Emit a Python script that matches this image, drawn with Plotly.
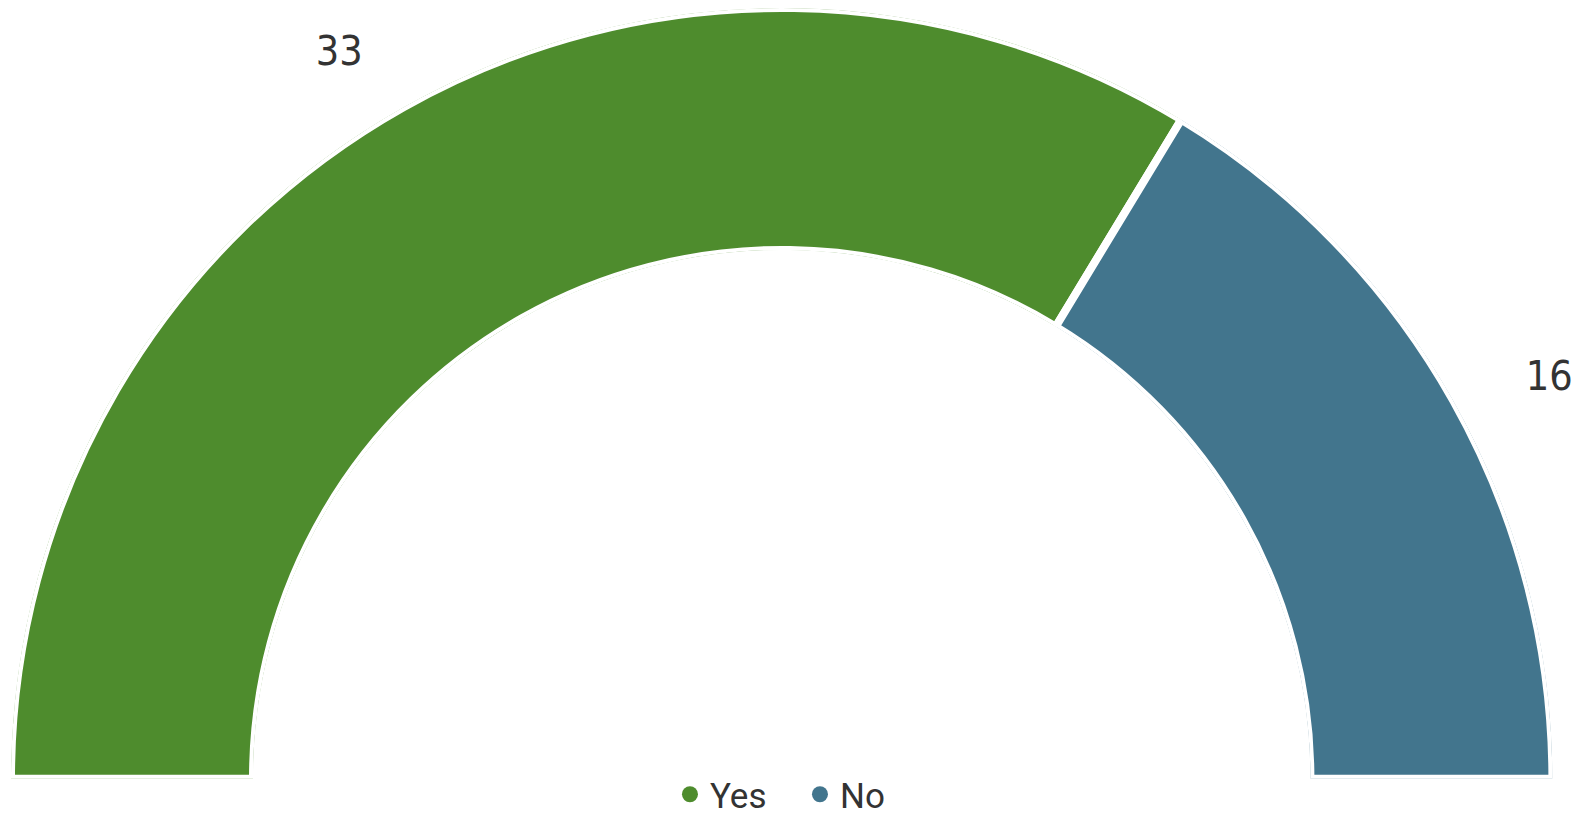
import math
import plotly.graph_objects as go

# data
categories = ["Yes", "No"]
counts = [33, 16]
colors = ["#4E8C2D", "#42758D"]

TEXT_COLOR = "#333333"
LABEL_FONT = "DejaVu Sans Condensed, DejaVu Sans, sans-serif"
LEGEND_FONT = "Roboto, sans-serif"

# where the half ring sits on the page (paper fractions)
DOM_X = [0.00191, 0.98558]
DOM_Y = [0.05551, 1.0]
LABEL_DIST = 1.108  # label distance from centre, in outer radii

# half donut: spread the counts over 180 degrees, starting on the left
total = sum(counts)
widths = [c / total * 180 for c in counts]
centers = []
start = 0
for w in widths:
    centers.append(start + w / 2)
    start += w

fig = go.Figure()

fig.add_trace(go.Barpolar(
    r=[1] * len(counts), theta=centers, width=widths,
    marker=dict(color=colors, line=dict(color="white", width=8)),
    text=categories, hoverinfo="text", showlegend=False,
))

# value labels outside the ring, on an overlay cartesian frame that
# spans the same box as the polar subplot (1 unit = outer radius)
lab_x = [LABEL_DIST * math.cos(math.radians(180 - t)) for t in centers]
lab_y = [LABEL_DIST * math.sin(math.radians(180 - t)) for t in centers]
fig.add_trace(go.Scatter(
    x=lab_x, y=lab_y, mode="text",
    text=[str(c) for c in counts],
    textposition=["bottom left" if t < 90 else "bottom right" for t in centers],
    textfont=dict(family=LABEL_FONT, size=41, color=TEXT_COLOR),
    cliponaxis=False, showlegend=False, hoverinfo="skip",
))

# legend entries (round markers)
for name, color in zip(categories, colors):
    fig.add_trace(go.Scatterpolar(
        r=[None], theta=[None], mode="markers", name=name,
        marker=dict(color=color, size=16, symbol="circle"),
    ))

fig.update_layout(
    paper_bgcolor="white",
    plot_bgcolor="rgba(0,0,0,0)",
    margin=dict(l=0, r=0, t=0, b=0, autoexpand=False),
    polar=dict(
        domain=dict(x=DOM_X, y=DOM_Y),
        sector=[0, 180],
        hole=0.686,
        bgcolor="white",
        radialaxis=dict(range=[0, 1], visible=False),
        angularaxis=dict(visible=False, direction="clockwise", rotation=180),
    ),
    xaxis=dict(domain=DOM_X, range=[-1, 1], visible=False, fixedrange=True),
    yaxis=dict(domain=DOM_Y, range=[0, 1], visible=False, fixedrange=True),
    legend=dict(
        orientation="h", x=0.5054, xanchor="center", y=0, yanchor="bottom",
        font=dict(family=LEGEND_FONT, size=35, color=TEXT_COLOR),
        entrywidth=85,
    ),
)

fig.write_html("out.html")
